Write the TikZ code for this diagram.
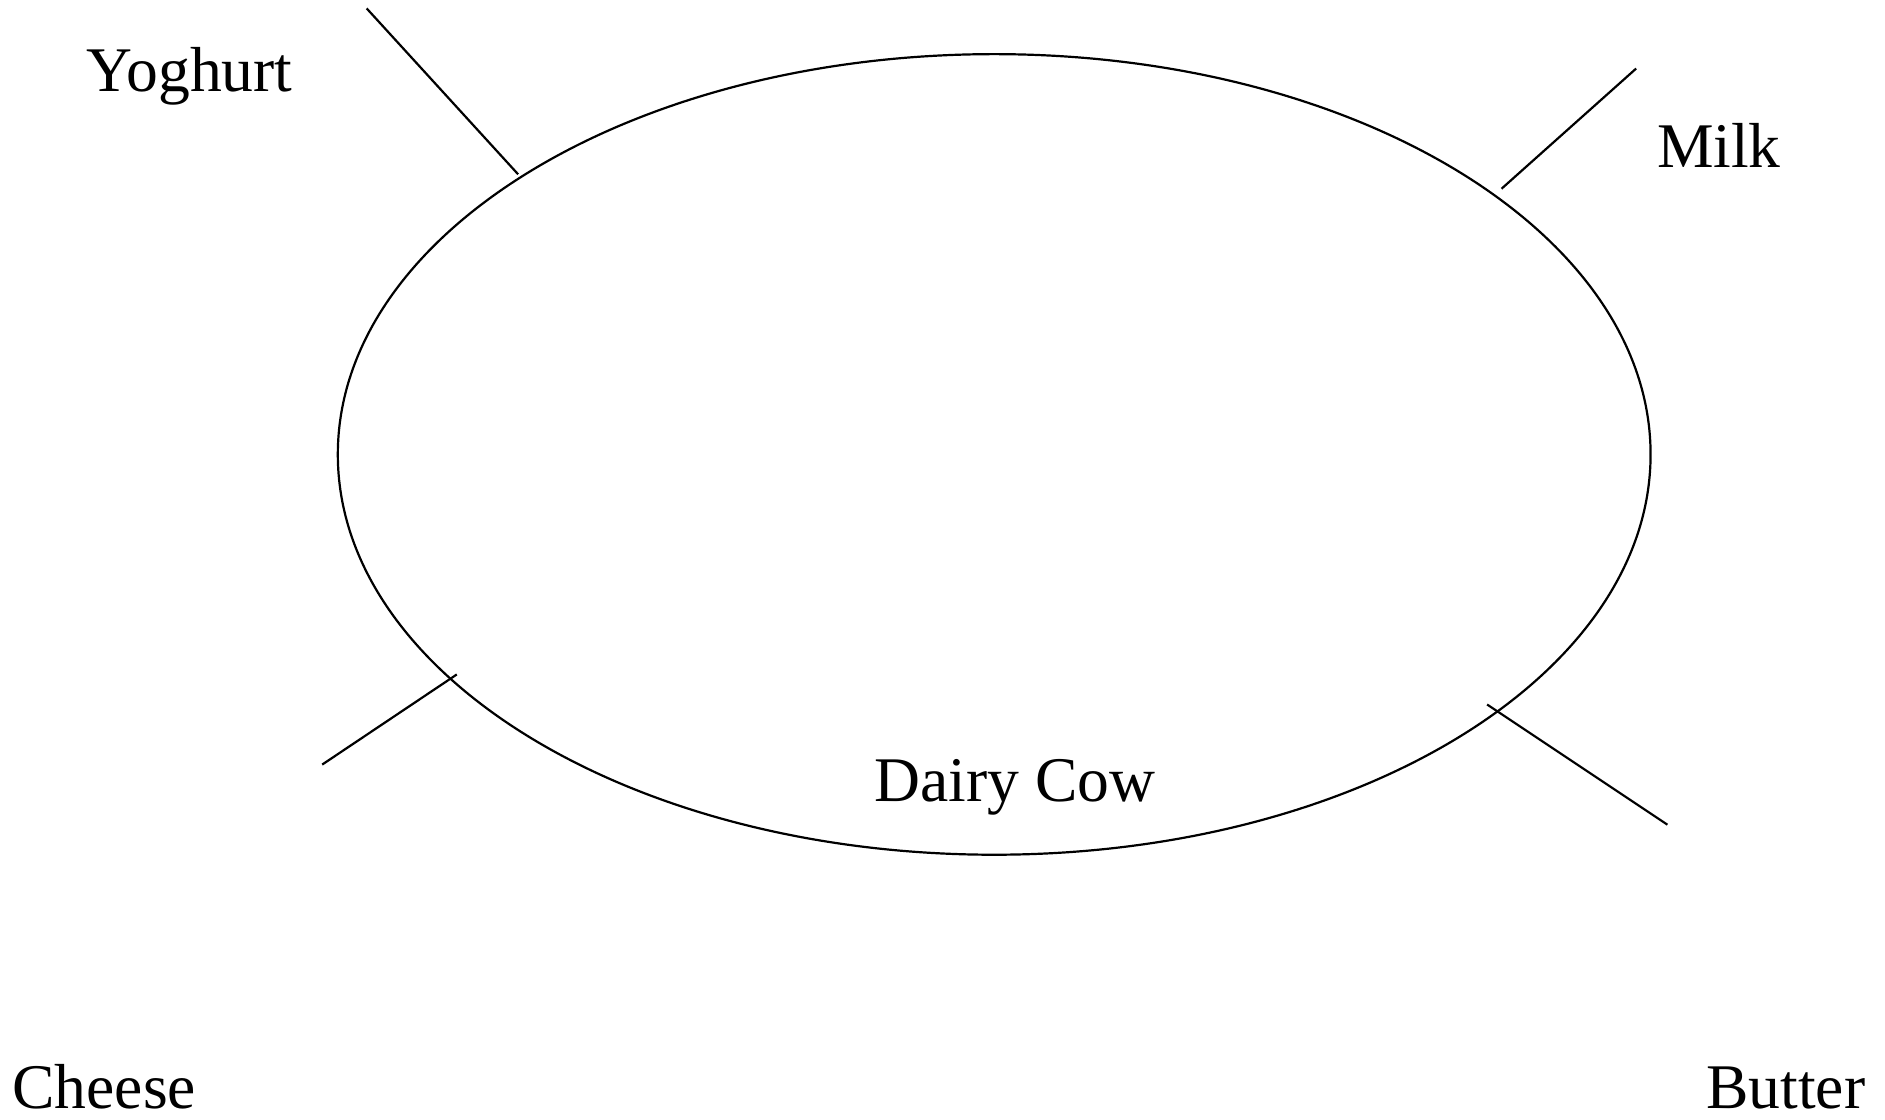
\documentclass[tikz,border=0pt]{standalone}
\usepackage{fontspec}
\setmainfont{Liberation Serif}
\usetikzlibrary{shapes.geometric}
\begin{document}
\begin{tikzpicture}[x=0.6011pt,y=-0.6011pt,
  lbl/.style={anchor=base west,inner sep=0pt,font=\fontsize{31.8pt}{36pt}\selectfont},
  ln/.style={line width=1.1pt,draw=black}]
\useasboundingbox (0,0) rectangle (1568,931);
\node[ln,ellipse,inner sep=0pt,minimum width=656.4pt,minimum height=400.3pt] (cow) at (827,378) {};
\node[lbl] (yog) at (72,76) {Yoghurt};
\node[lbl] (milk) at (1378,139) {Milk};
\node[lbl] (dairy) at (727,667) {Dairy Cow};
\node[lbl,text depth=0pt] (cheese) at (10,922) {Cheese};
\node[lbl,text depth=0pt] (butter) at (1419,922) {Butter};
\coordinate (y1) at (305,7);
\coordinate (y2) at (431,145);
\coordinate (m1) at (1361,57);
\coordinate (m2) at (1249,157);
\coordinate (c1) at (268,636);
\coordinate (c2) at (380,561);
\coordinate (b1) at (1237,586);
\coordinate (b2) at (1387,686);
\draw[ln] (y1) -- (y2);
\draw[ln] (m1) -- (m2);
\draw[ln] (c1) -- (c2);
\draw[ln] (b1) -- (b2);
\end{tikzpicture}
\end{document}
